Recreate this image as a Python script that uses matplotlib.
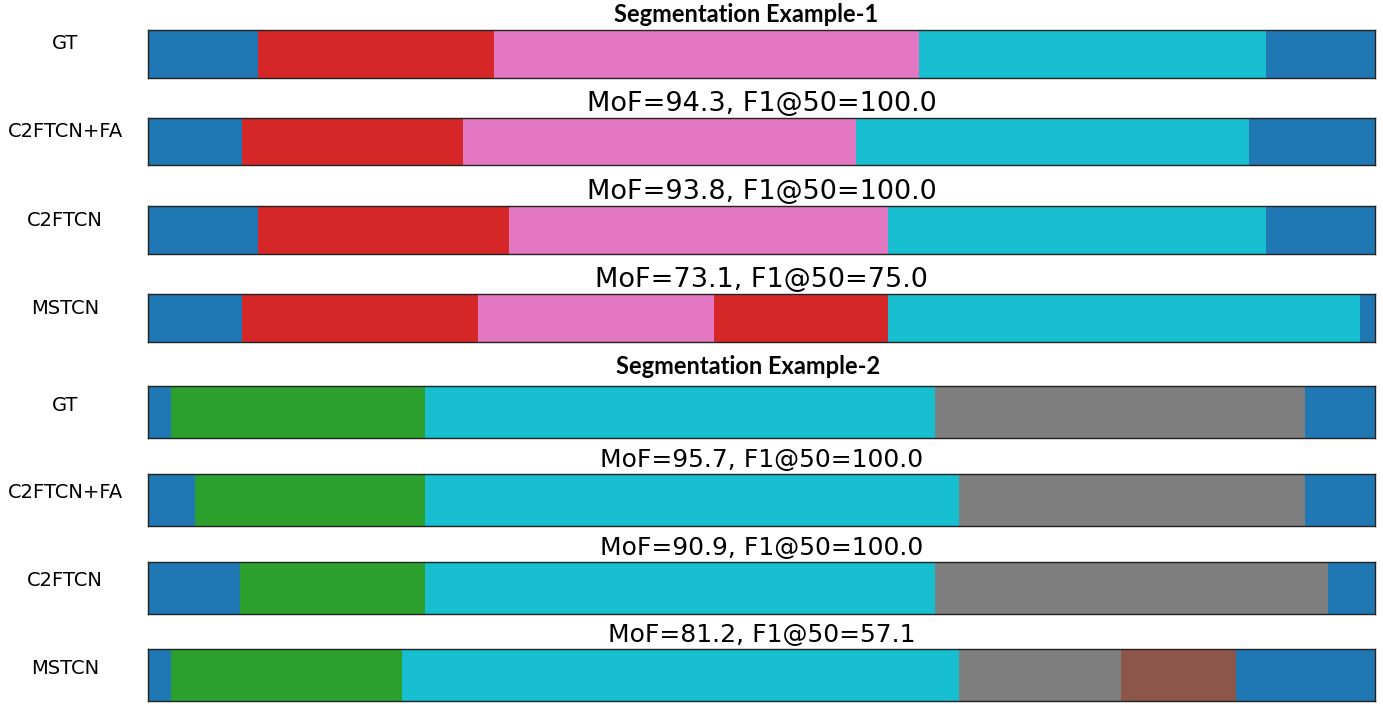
import matplotlib
matplotlib.use("Agg")
import matplotlib.pyplot as plt

# Segment boundaries (percent of video length) and class ids (tab10 colour index)
methods = ["GT", "C2FTCN+FA", "C2FTCN", "MSTCN"]

ex1_bounds = [
    [0, 9.0, 28.2, 62.8, 91.1, 100],
    [0, 7.7, 25.7, 57.7, 89.7, 100],
    [0, 9.0, 29.4, 60.3, 91.1, 100],
    [0, 7.7, 26.9, 46.1, 60.3, 98.8, 100],
]
ex1_classes = [
    [0, 3, 6, 9, 0],
    [0, 3, 6, 9, 0],
    [0, 3, 6, 9, 0],
    [0, 3, 6, 3, 9, 0],
]
ex1_mof = [None, 94.3, 93.8, 73.1]
ex1_f1 = [None, 100.0, 100.0, 75.0]

ex2_bounds = [
    [0, 1.9, 22.6, 64.1, 94.3, 100],
    [0, 3.8, 22.6, 66.1, 94.3, 100],
    [0, 7.5, 22.6, 64.1, 96.2, 100],
    [0, 1.9, 20.7, 66.1, 79.3, 88.7, 100],
]
ex2_classes = [
    [0, 2, 9, 7, 0],
    [0, 2, 9, 7, 0],
    [0, 2, 9, 7, 0],
    [0, 2, 9, 7, 5, 0],
]
ex2_mof = [None, 95.7, 90.9, 81.2]
ex2_f1 = [None, 100.0, 100.0, 57.1]

W, H = 1383, 704
fig = plt.figure(figsize=(W / 100, H / 100), dpi=100)

# pixel extents (top, bottom) of each strip
strip_px = [(30, 77.7), (118.3, 165.3), (206, 254), (294, 342.3),
            (386, 438.3), (474, 526), (561.7, 614), (649.3, 701)]
x0_px, x1_px = 148, 1375
cmap = plt.get_cmap("tab10")


def draw_strip(row, name, bounds, classes, mof, f1, title_size, label_off):
    top, bot = strip_px[row]
    ax = fig.add_axes([x0_px / W, 1 - bot / H, (x1_px - x0_px) / W, (bot - top) / H])
    starts = bounds[:-1]
    widths = [b - a for a, b in zip(bounds[:-1], bounds[1:])]
    ax.barh(0, widths, left=starts, height=1.0,
            color=[cmap(c) for c in classes], linewidth=0)
    ax.set_xlim(0, 100)
    ax.set_ylim(-0.5, 0.5)
    ax.set_xticks([])
    ax.set_yticks([])
    for s in ax.spines.values():
        s.set_color("#222222")
        s.set_linewidth(1.0)
    if mof is not None:
        ax.set_title(f"MoF={mof:.1f}, F1@50={f1:.1f}", fontsize=title_size, pad=5)
    h = bot - top
    ax.text(-0.0676, 0.5 + label_off / h, name, transform=ax.transAxes,
            ha="center", va="center", fontsize=14)
    return ax


for i in range(4):
    draw_strip(i, methods[i], ex1_bounds[i], ex1_classes[i],
               ex1_mof[i], ex1_f1[i], 19.5, 10)
for i in range(4):
    draw_strip(4 + i, methods[i], ex2_bounds[i], ex2_classes[i],
               ex2_mof[i], ex2_f1[i], 18, 7)

fig.text(746 / W, 1 - 15 / H, "Segmentation Example-1", ha="center", va="center",
         fontsize=17, fontweight="bold", family="Lato")
fig.text(748 / W, 1 - 366 / H, "Segmentation Example-2", ha="center", va="center",
         fontsize=17, fontweight="bold", family="Lato")

fig.savefig("out.png", dpi=100)
